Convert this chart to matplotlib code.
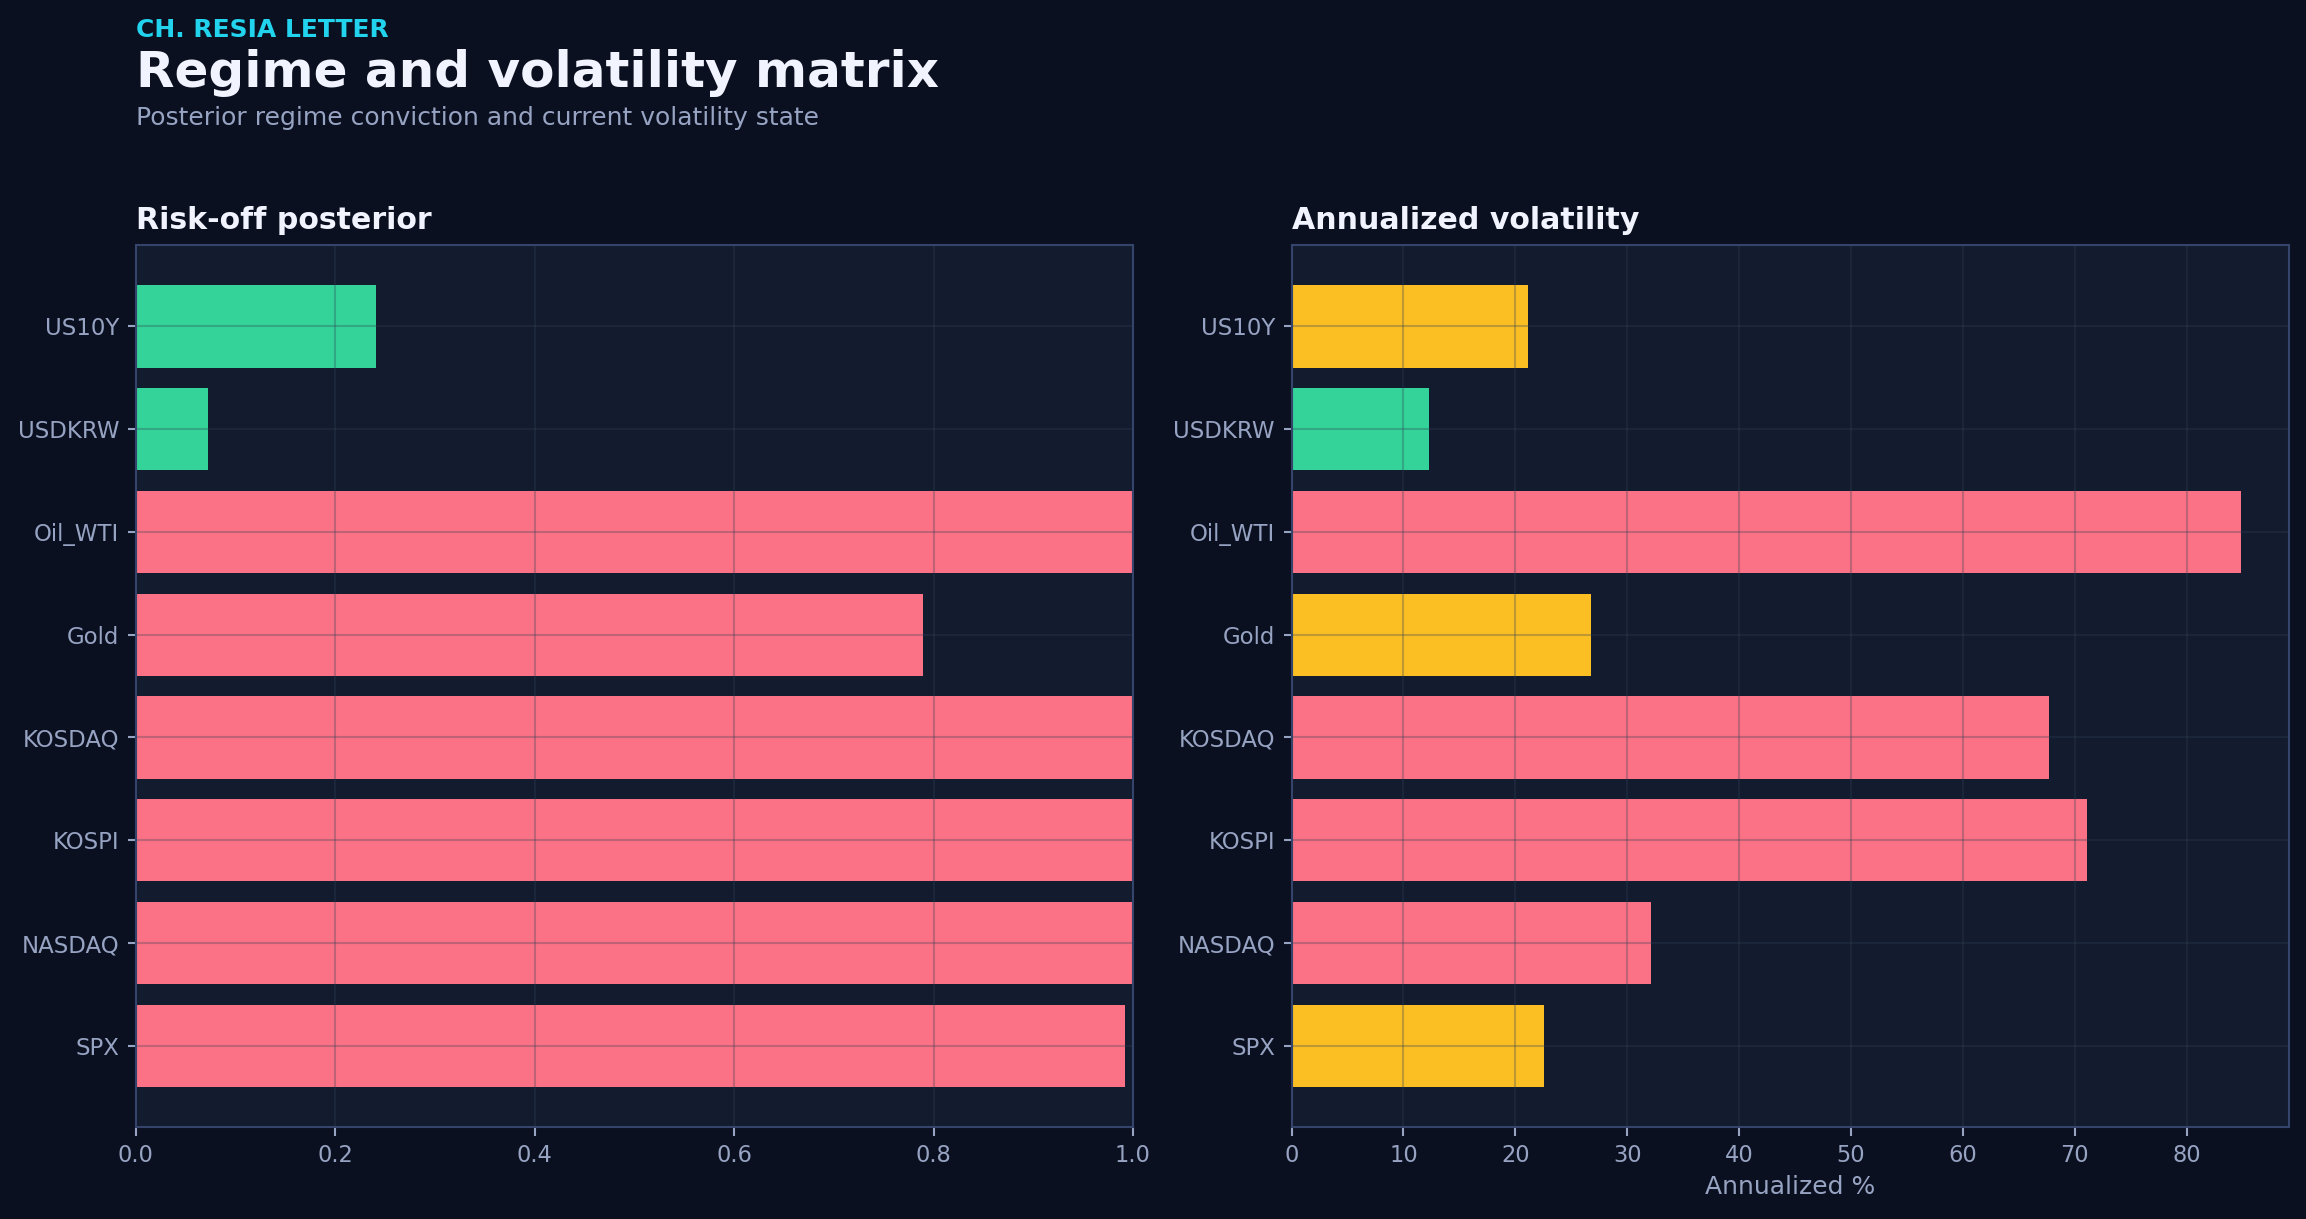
import numpy as np
import matplotlib
matplotlib.use("Agg")
import matplotlib.pyplot as plt

# data (bottom -> top on the chart)
assets = ["SPX", "NASDAQ", "KOSPI", "KOSDAQ", "Gold", "Oil_WTI", "USDKRW", "US10Y"]
risk_off_posterior = [0.992, 1.0, 1.0, 1.0, 0.789, 1.0, 0.072, 0.241]
annualized_vol = [22.6, 32.1, 71.1, 67.7, 26.8, 84.9, 12.3, 21.1]

FIG_BG = "#0b1020"
AX_BG = "#131b2f"
SPINE = "#34446a"
MUTED = "#97a3c2"
WHITE = "#f1f4ff"
CYAN = "#22d3ee"
RED = "#fb7185"
GREEN = "#34d399"
YELLOW = "#fbbf24"


def posterior_colors(vals):
    return [RED if v > 0.5 else GREEN for v in vals]


def vol_colors(vals):
    out = []
    for v in vals:
        if v > 30:
            out.append(RED)
        elif v >= 15:
            out.append(YELLOW)
        else:
            out.append(GREEN)
    return out


def style_axes(ax, title):
    ax.set_facecolor(AX_BG)
    for sp in ax.spines.values():
        sp.set_color(SPINE)
        sp.set_linewidth(1.0)
    ax.tick_params(axis="x", colors=MUTED, labelsize=10.8, length=4.5, width=1)
    ax.tick_params(axis="y", colors=MUTED, labelsize=11, length=4, width=1, pad=4)
    ax.grid(True, color="#334155", alpha=0.3, linewidth=1.0)
    ax.set_title(title, loc="left", color=WHITE, fontsize=14.4, fontweight="bold", pad=8)


dpi = 150
fig = plt.figure(figsize=(2306 / dpi, 1219 / dpi), dpi=dpi, facecolor=FIG_BG)

ax1 = fig.add_axes([0.0589, 0.0755, 0.4324, 0.7233])
ax2 = fig.add_axes([0.5601, 0.0755, 0.4325, 0.7233])

y = np.arange(len(assets))

ax1.barh(y, risk_off_posterior, height=0.8, color=posterior_colors(risk_off_posterior))
ax1.set_yticks(y)
ax1.set_yticklabels(assets)
ax1.set_xlim(0, 1.0)
style_axes(ax1, "Risk-off posterior")

ax2.barh(y, annualized_vol, height=0.8, color=vol_colors(annualized_vol))
ax2.set_yticks(y)
ax2.set_yticklabels(assets)
ax2.set_xlim(0, max(annualized_vol) * 1.05)
ax2.set_xlabel("Annualized %", color=MUTED, fontsize=12)
style_axes(ax2, "Annualized volatility")

x0 = 0.0589
fig.text(x0, 0.9699, "CH. RESIA LETTER", color=CYAN, fontsize=12, fontweight="bold", va="baseline")
fig.text(x0, 0.9284, "Regime and volatility matrix", color=WHITE, fontsize=24,
         fontweight="bold", va="baseline")
fig.text(x0, 0.8975, "Posterior regime conviction and current volatility state", color=MUTED,
         fontsize=12, va="baseline")

fig.savefig("out.png", dpi=dpi, facecolor=FIG_BG)
